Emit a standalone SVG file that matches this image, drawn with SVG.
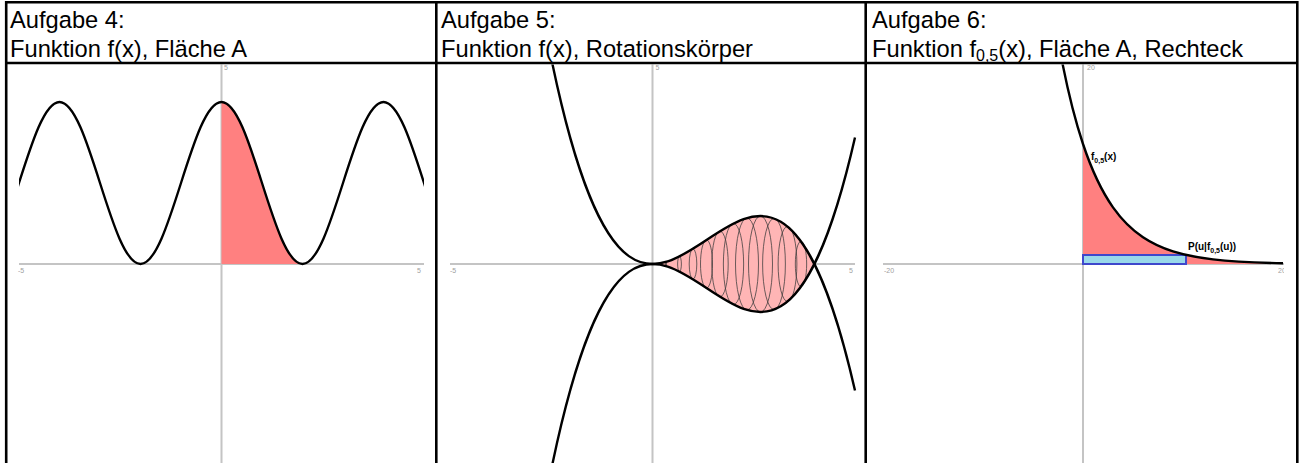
<svg xmlns="http://www.w3.org/2000/svg" width="1300" height="463" viewBox="0 0 1300 463">
<style>
.hdr{font-family:"Liberation Sans",Arial,sans-serif;font-size:23.7px;fill:#000}
.tick{font-family:"Liberation Sans",Arial,sans-serif;font-size:7px;fill:#a0a0a0}
.axis{stroke:#c4c4c4;stroke-width:2;fill:none}
.curve{stroke:#000;stroke-width:2.4;fill:none;stroke-linejoin:round}
.ell{stroke:#3a3a3a;stroke-width:1;fill:none;stroke-opacity:0.75}
.lbl{font-family:"Liberation Sans",Arial,sans-serif;font-size:10px;font-weight:bold;fill:#000}
.grid{stroke:#000;stroke-width:2.6;fill:none}
</style>
<defs>
<clipPath id="c1"><rect x="8" y="64.5" width="427" height="399"/></clipPath>
<clipPath id="c1b"><rect x="19" y="0" width="405" height="463"/></clipPath>
<clipPath id="c2"><rect x="437.5" y="64.5" width="427" height="399"/></clipPath>
<clipPath id="c3"><rect x="867" y="64.5" width="417" height="399"/></clipPath>
</defs>
<rect x="0" y="0" width="1300" height="463" fill="#fff"/>

<g id="panel1" clip-path="url(#c1)">
<line class="axis" x1="19" y1="264" x2="424" y2="264"/>
<line class="axis" x1="221.5" y1="64" x2="221.5" y2="463"/>
<text class="tick" x="18" y="273">-5</text>
<text class="tick" x="417" y="273">5</text>
<text class="tick" x="224" y="70">5</text>
<path d="M221.5 264 L221.5 102 C251 102 273 264 302.5 264 Z" fill="#ff8080"/>
<path class="curve" clip-path="url(#c1b)" d="M-21.5 264 C8 264 30 102 59.5 102 C89 102 111 264 140.5 264 C170 264 192 102 221.5 102 C251 102 273 264 302.5 264 C332 264 354 102 383.5 102 C413 102 435 264 464.5 264"/>
</g>

<g id="panel2" clip-path="url(#c2)">
<line class="axis" x1="450" y1="264" x2="855" y2="264"/>
<line class="axis" x1="652.5" y1="64" x2="652.5" y2="463"/>
<text class="tick" x="450" y="273">-5</text>
<text class="tick" x="849" y="273">5</text>
<text class="tick" x="655.5" y="70">5</text>
<path d="M652.5 264 C706.5 264 760.5 156 814.5 264 C760.5 372 706.5 264 652.5 264 Z" fill="#ffb5b5"/>
<g id="ellipses">
<ellipse class="ell" cx="666" cy="264" rx="0.6" ry="2.06"/>
<ellipse class="ell" cx="679.5" cy="264" rx="1.88" ry="7.5"/>
<ellipse class="ell" cx="693" cy="264" rx="3.8" ry="15.19"/>
<ellipse class="ell" cx="706.5" cy="264" rx="6" ry="24"/>
<ellipse class="ell" cx="720" cy="264" rx="8.2" ry="32.81"/>
<ellipse class="ell" cx="733.5" cy="264" rx="10.13" ry="40.5"/>
<ellipse class="ell" cx="747" cy="264" rx="11.49" ry="45.94"/>
<ellipse class="ell" cx="760.5" cy="264" rx="12" ry="48"/>
<ellipse class="ell" cx="774" cy="264" rx="11.39" ry="45.56"/>
<ellipse class="ell" cx="787.5" cy="264" rx="9.38" ry="37.5"/>
<ellipse class="ell" cx="801" cy="264" rx="5.67" ry="22.69"/>
</g>
<path class="curve" stroke-width="2" d="M551.25 58.34 C652.5 548.77 753.75 -52.41 855 390.56"/>
<path class="curve" stroke-width="2" d="M551.25 469.66 C652.5 -20.77 753.75 580.41 855 137.44"/>
</g>

<g id="panel3" clip-path="url(#c3)">
<line class="axis" x1="883" y1="264" x2="1284" y2="264"/>
<line class="axis" x1="1083" y1="64" x2="1083" y2="463"/>
<text class="tick" x="884" y="273">-20</text>
<text class="tick" x="1278" y="273">20</text>
<text class="tick" x="1087" y="70">20</text>
<path d="M1083 264 L1083 144 C1093 174 1103 193.15 1113 207.32 C1123 221.49 1133 230.53 1143 237.22 C1153 243.92 1163 248.19 1173 251.35 C1186.33 255.57 1199.67 257.8 1213 259.35 C1236.33 262.06 1259.67 262.72 1283 263.19 L1283 264 Z" fill="#ff8080"/>
<rect x="1083" y="255" width="103" height="9" fill="#99d9ea" stroke="#3f48cc" stroke-width="2"/>
<path class="curve" d="M1059 45.3 C1067 89.04 1075 120 1083 144 C1093 174 1103 193.15 1113 207.32 C1123 221.49 1133 230.53 1143 237.22 C1153 243.92 1163 248.19 1173 251.35 C1186.33 255.57 1199.67 257.8 1213 259.35 C1236.33 262.06 1259.67 262.72 1283 263.19"/>
<text class="lbl" x="1091" y="160">f<tspan font-size="7" dy="3">0,5</tspan><tspan dy="-3">(x)</tspan></text>
<text class="lbl" x="1188" y="250">P(u|f<tspan font-size="7" dy="3">0,5</tspan><tspan dy="-3">(u))</tspan></text>
</g>

<g id="table">
<line class="grid" x1="6.2" y1="2.2" x2="1297.3" y2="2.2"/>
<line class="grid" x1="6.2" y1="63" x2="1297.3" y2="63"/>
<line class="grid" x1="6.2" y1="0.9" x2="6.2" y2="463"/>
<line class="grid" x1="436.3" y1="0.9" x2="436.3" y2="463"/>
<line class="grid" x1="865.7" y1="0.9" x2="865.7" y2="463"/>
<line class="grid" x1="1297.3" y1="0.9" x2="1297.3" y2="463"/>
</g>

<g id="header1">
<text class="hdr" x="10" y="28.3">Aufgabe 4:</text>
<text class="hdr" x="10" y="56.7">Funktion f(x), Fläche A</text>
</g>
<g id="header2">
<text class="hdr" x="441" y="28.3">Aufgabe 5:</text>
<text class="hdr" x="441" y="56.7">Funktion f(x), Rotationskörper</text>
</g>
<g id="header3">
<text class="hdr" x="872" y="28.3">Aufgabe 6:</text>
<text class="hdr" x="872" y="56.7">Funktion f<tspan font-size="16" dy="4">0,5</tspan><tspan dy="-4">(x), Fläche A, Rechteck</tspan></text>
</g>
</svg>
